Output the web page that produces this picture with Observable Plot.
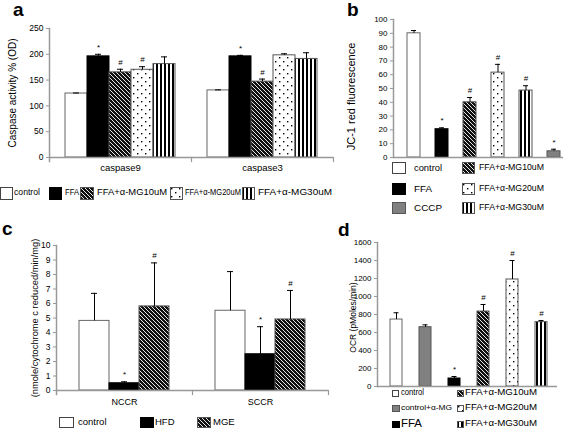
<!DOCTYPE html>
<html>
<head>
<meta charset="utf-8">
<script src="https://cdn.jsdelivr.net/npm/d3@7"></script>
<script src="https://cdn.jsdelivr.net/npm/@observablehq/plot@0.6"></script>
<style>
  html, body { margin: 0; padding: 0; background: #fff; }
  #fig { position: relative; width: 567px; height: 429px; overflow: hidden; background: #fff;
         font-family: "Liberation Sans", Arial, sans-serif; color: #000; }
  .letter { position: absolute; font-weight: bold; font-size: 19px; line-height: 1.1; }
  .lg { position: absolute; white-space: nowrap; line-height: 1; transform-origin: 0 50%; }
</style>
</head>
<body>
<svg width="0" height="0" style="position:absolute">
  <defs>
    <pattern id="hatch" width="4" height="4" patternUnits="userSpaceOnUse">
      <rect width="4" height="4" fill="#111"/>
      <path d="M-1,-1L5,5M3,-1L5,1M-1,3L1,5" stroke="#fff" stroke-width="0.9"/>
    </pattern>
    <pattern id="dots" width="8" height="8" patternUnits="userSpaceOnUse">
      <rect width="8" height="8" fill="#fff"/>
      <rect x="1" y="1" width="1.4" height="1.4" fill="#000"/>
      <rect x="5" y="5" width="1.4" height="1.4" fill="#000"/>
    </pattern>
    <pattern id="vstripes" width="4" height="4" patternUnits="userSpaceOnUse">
      <rect width="4" height="4" fill="#fff"/>
      <rect width="2" height="4" fill="#000"/>
    </pattern>
  </defs>
</svg>
<div id="fig"></div>
<script>
// ---------------- DATA ----------------
// Panel a
const aCategories = ["caspase9", "caspase3"];
const aSeries = ["control", "FFA", "FFA+α-MG10uM", "FFA+α-MG20uM", "FFA+α-MG30uM"];
const aCaspase9Mean = [124, 196, 165, 170, 181];
const aCaspase9Err  = [125, 200, 171, 176, 195];
const aCaspase9Sig  = ["", "*", "#", "#", ""];
const aCaspase3Mean = [130, 196, 147, 198, 191];
const aCaspase3Err  = [131, 198, 152, 201, 203];
const aCaspase3Sig  = ["", "*", "#", "", ""];
const aYTicks = [0, 50, 100, 150, 200, 250];
const aYLabel = "Caspase activity % (OD)";

// Panel b
const bSeries = ["control", "FFA", "FFA+α-MG10uM", "FFA+α-MG20uM", "FFA+α-MG30uM", "CCCP"];
const bMean = [90, 20.5, 40, 61.5, 48.5, 4.5];
const bErr  = [92, 21.5, 43.5, 67.5, 52, 6];
const bSig  = ["", "*", "#", "#", "#", "*"];
const bYTicks = [0, 10, 20, 30, 40, 50, 60, 70, 80, 90, 100];
const bYLabel = "JC-1 red fluorescence";

// Panel c
const cCategories = ["NCCR", "SCCR"];
const cSeries = ["control", "HFD", "MGE"];
const cNCCRMean = [4.8, 0.5, 5.8];
const cNCCRErr  = [6.7, 0.6, 8.8];
const cNCCRSig  = ["", "*", "#"];
const cSCCRMean = [5.5, 2.5, 4.9];
const cSCCRErr  = [8.2, 4.4, 6.9];
const cSCCRSig  = ["", "*", "#"];
const cYTicks = [0, 1, 2, 3, 4, 5, 6, 7, 8, 9, 10];
const cYLabel = "(nmole/cytochrome c reduced/min/mg)";

// Panel d
const dSeries = ["control", "control+α-MG", "FFA", "FFA+α-MG10uM", "FFA+α-MG20uM", "FFA+α-MG30uM"];
const dMean = [744, 659, 89, 833, 1189, 715];
const dErr  = [819, 685, 111, 911, 1400, 733];
const dSig  = ["", "", "*", "#", "#", "#"];
const dYTicks = [0, 200, 400, 600, 800, 1000, 1200, 1400, 1600];
const dYLabel = "OCR (pMoles/min)";

// ---------------- STYLES ----------------
const FILL = {
  "control": "#ffffff", "FFA": "#000000", "HFD": "#000000",
  "FFA+α-MG10uM": "url(#hatch)", "MGE": "url(#hatch)",
  "FFA+α-MG20uM": "url(#dots)", "FFA+α-MG30uM": "url(#vstripes)",
  "CCCP": "#808080", "control+α-MG": "#808080"
};
const STROKE = {
  "control": "#666", "FFA": "#000", "HFD": "#000",
  "FFA+α-MG10uM": "#555", "MGE": "#555",
  "FFA+α-MG20uM": "#555", "FFA+α-MG30uM": "#555",
  "CCCP": "#555", "control+α-MG": "#555"
};
const AXIS = "#999";
const FONT = "'Liberation Sans', Arial, sans-serif";
const intFmt = d3.format("d");

const fig = document.getElementById("fig");
function place(node, left, top) {
  node.style.position = "absolute";
  node.style.left = left + "px";
  node.style.top = top + "px";
  fig.appendChild(node);
}

function groupedRows(categories, series, means, errs, sigs) {
  const rows = [];
  categories.forEach((c, ci) => series.forEach((s, si) => rows.push({
    category: c, series: s, mean: means[ci][si], err: errs[ci][si], sig: sigs[ci][si]
  })));
  return rows;
}
function simpleRows(series, mean, err, sig) {
  return series.map((s, i) => ({series: s, mean: mean[i], err: err[i], sig: sig[i]}));
}

function barMarks(rows, facet, capInset) {
  const fx = facet ? "category" : undefined;
  return [
    Plot.barY(rows, {fx, x: "series", y: "mean", fill: d => FILL[d.series], stroke: d => STROKE[d.series], strokeWidth: 1}),
    Plot.ruleX(rows, {fx, x: "series", y1: "mean", y2: "err", stroke: "#000", strokeWidth: 1}),
    Plot.tickY(rows, {fx, x: "series", y: "err", stroke: "#000", strokeWidth: 1, insetLeft: capInset, insetRight: capInset}),
    Plot.text(rows, {fx, x: "series", y: "err", text: "sig", dy: -7, fontSize: 8}),
    Plot.ruleY([0], {stroke: AXIS, strokeWidth: 1.5})
  ];
}
function yTitle(label, dx, dy, fontSize, facet) {
  return Plot.text([label], {text: d => d, frameAnchor: "left", textAnchor: "middle", lineAnchor: "middle",
    rotate: -90, dx, dy, fontSize, facet});
}
// short separators below the category axis (at the facet edges)
function facetSeparators(plotHeight) {
  return [
    Plot.frame({anchor: "left", facet: "super", stroke: AXIS, strokeWidth: 1.5, insetBottom: -4}),
    Plot.frame({anchor: "right", stroke: AXIS, strokeWidth: 1.2, insetTop: plotHeight, insetBottom: -4})
  ];
}

// ---------------- PANEL a ----------------
{
  const rows = groupedRows(aCategories, aSeries,
    [aCaspase9Mean, aCaspase3Mean], [aCaspase9Err, aCaspase3Err], [aCaspase9Sig, aCaspase3Sig]);
  const chart = Plot.plot({
    width: 340, height: 182,
    marginLeft: 49, marginRight: 7, marginTop: 28, marginBottom: 25,
    style: {fontFamily: FONT, fontSize: "8.5px", color: "#000", background: "transparent"},
    fx: {domain: aCategories, padding: 0, label: null},
    x: {domain: aSeries, paddingInner: 0, paddingOuter: 0.72, axis: null},
    y: {domain: [0, 250], axis: null},
    color: {type: "identity"},
    marks: [
      ...barMarks(rows, true, 8),
      ...facetSeparators(182 - 28 - 25),
      Plot.axisY({ticks: aYTicks, tickFormat: intFmt, tickSize: 3, tickPadding: 3, stroke: AXIS, label: null}),
      Plot.axisFx({anchor: "bottom", tickSize: 0, tickPadding: 7, fontSize: 9.5, label: null}),
      yTitle(aYLabel, -37, 0, 10, "super")
    ]
  });
  place(chart, 0, 0);
}

// ---------------- PANEL b ----------------
{
  const rows = simpleRows(bSeries, bMean, bErr, bSig);
  const chart = Plot.plot({
    width: 227, height: 162,
    marginLeft: 53, marginRight: 4, marginTop: 19, marginBottom: 5,
    style: {fontFamily: FONT, fontSize: "8px", color: "#000", background: "transparent"},
    x: {domain: bSeries, paddingInner: 0.523, paddingOuter: 0.265, align: 0.85, axis: null},
    y: {domain: [0, 100], axis: null},
    color: {type: "identity"},
    marks: [
      ...barMarks(rows, false, 4),
      Plot.frame({anchor: "left", stroke: AXIS, strokeWidth: 1.5}),
      Plot.axisY({ticks: bYTicks, tickFormat: intFmt, tickSize: 3, tickPadding: 3, stroke: AXIS, label: null}),
      yTitle(bYLabel, -42, 8, 11)
    ]
  });
  place(chart, 340, 0);
}

// ---------------- PANEL c ----------------
{
  const rows = groupedRows(cCategories, cSeries,
    [cNCCRMean, cSCCRMean], [cNCCRErr, cSCCRErr], [cNCCRSig, cSCCRSig]);
  const chart = Plot.plot({
    width: 335, height: 192,
    marginLeft: 55, marginRight: 7, marginTop: 25, marginBottom: 22,
    style: {fontFamily: FONT, fontSize: "8.5px", color: "#000", background: "transparent"},
    fx: {domain: cCategories, padding: 0, label: null},
    x: {domain: cSeries, paddingInner: 0, paddingOuter: 0.75, axis: null},
    y: {domain: [0, 10], axis: null},
    color: {type: "identity"},
    marks: [
      ...barMarks(rows, true, 12),
      ...facetSeparators(192 - 25 - 22),
      Plot.axisY({ticks: cYTicks, tickFormat: intFmt, tickSize: 3, tickPadding: 3, stroke: AXIS, label: null}),
      Plot.axisFx({anchor: "bottom", tickSize: 0, tickPadding: 8, fontSize: 9, label: null}),
      yTitle(cYLabel, -21, 0, 9.3, "super")
    ]
  });
  place(chart, 0, 220);
}

// ---------------- PANEL d ----------------
{
  const rows = simpleRows(dSeries, dMean, dErr, dSig);
  const chart = Plot.plot({
    width: 227, height: 170,
    marginLeft: 37, marginRight: 10, marginTop: 22, marginBottom: 4,
    style: {fontFamily: FONT, fontSize: "8px", color: "#000", background: "transparent"},
    x: {domain: dSeries, paddingInner: 0.578, paddingOuter: 0.33, align: 0.577, axis: null},
    y: {domain: [0, 1600], axis: null},
    color: {type: "identity"},
    marks: [
      ...barMarks(rows, false, 3.5),
      Plot.frame({anchor: "left", stroke: AXIS, strokeWidth: 1.5}),
      Plot.axisY({ticks: dYTicks, tickFormat: intFmt, tickSize: 3, tickPadding: 3, stroke: AXIS, label: null}),
      yTitle(dYLabel, -24, 3, 8.5)
    ]
  });
  place(chart, 340, 220);
}

// ---------------- PANEL LETTERS ----------------
[["a", 13, 0], ["b", 347, 0], ["c", 2, 219], ["d", 338, 220]].forEach(([t, x, y]) => {
  const el = document.createElement("div");
  el.className = "letter";
  el.textContent = t;
  place(el, x, y);
});

// ---------------- LEGENDS ----------------
// (label, swatch x, center y, swatch w, swatch h, text x, font size, text width)
function legendItem(label, x, cy, w, h, tx, fs, tw) {
  const sw = document.createElementNS("http://www.w3.org/2000/svg", "svg");
  sw.setAttribute("width", w + 2);
  sw.setAttribute("height", h + 2);
  const r = document.createElementNS("http://www.w3.org/2000/svg", "rect");
  r.setAttribute("x", 0.5); r.setAttribute("y", 0.5);
  r.setAttribute("width", w); r.setAttribute("height", h);
  r.setAttribute("fill", FILL[label]);
  r.setAttribute("stroke", label === "control" ? "#444" : STROKE[label]);
  sw.appendChild(r);
  place(sw, x, cy - h / 2 - 0.5);
  const t = document.createElement("div");
  t.className = "lg";
  t.style.fontSize = fs + "px";
  t.textContent = label;
  place(t, tx, cy - fs * 0.55);
  if (tw) {
    const natural = t.getBoundingClientRect().width;
    if (natural > 0) t.style.transform = `scaleX(${tw / natural})`;
  }
}
// a
legendItem(aSeries[0], 0, 193, 12, 12, 14, 8.5, 26);
legendItem(aSeries[1], 49, 193, 12, 12, 65, 9, 14);
legendItem(aSeries[2], 80, 193, 13, 12, 97, 9, 70);
legendItem(aSeries[3], 170, 193, 12, 12, 185, 9, 56);
legendItem(aSeries[4], 242, 193, 12, 12, 258, 9, 74);
// b
legendItem(bSeries[0], 392, 168, 13, 11, 414, 9.5, 28);
legendItem(bSeries[1], 392, 189, 13, 11, 414, 9.5, 18);
legendItem(bSeries[5], 392, 208, 13, 11, 414, 9.5, 28);
legendItem(bSeries[2], 462, 168, 12, 11, 479, 9, 65);
legendItem(bSeries[3], 462, 189, 12, 11, 479, 9, 65);
legendItem(bSeries[4], 462, 208, 12, 11, 479, 9, 65);
// c
legendItem(cSeries[0], 59, 422, 14, 10, 78, 9.5);
legendItem(cSeries[1], 140, 422, 13, 10, 155, 9.5);
legendItem(cSeries[2], 197, 422, 13, 10, 213, 9.5);
// d
legendItem(dSeries[0], 392, 393, 6, 6, 401, 9, 23);
legendItem(dSeries[1], 392, 408, 7, 6, 401, 7, 51);
legendItem(dSeries[2], 392, 424, 7, 6, 401, 10, 21);
legendItem(dSeries[3], 457, 393, 6, 6, 465, 9, 72);
legendItem(dSeries[4], 457, 408, 6, 6, 465, 9, 72);
legendItem(dSeries[5], 457, 424, 6, 6, 465, 9, 72);
</script>
</body>
</html>
